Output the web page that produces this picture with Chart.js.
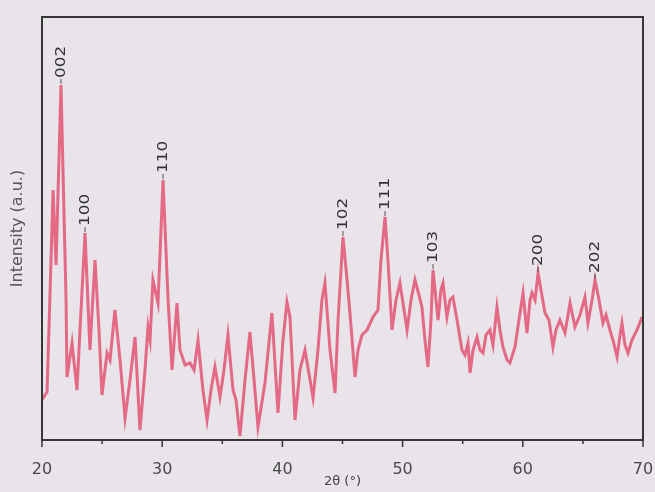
<!DOCTYPE html>
<html lang="en">
<head>
    <meta charset="UTF-8">
    <title>XRD pattern</title>
    <script src="https://cdn.jsdelivr.net/npm/chart.js"></script>
    <style>
        html, body { margin: 0; padding: 0; background: #e8e4ea; }
        #wrap { width: 655px; height: 492px; }
    </style>
</head>
<body>
    <div id="wrap"><canvas id="xrd"></canvas></div>

    <script>
        // 2theta (deg) and intensity (a.u.)
        const twoTheta = [
            20.0, 20.25, 20.42, 20.75, 20.92, 21.17, 21.58, 22.0, 22.08, 22.5, 22.91, 23.16, 23.58, 23.99, 24.41, 24.74,
            24.99, 25.41, 25.66, 26.07, 26.49, 26.91, 27.32, 27.74, 28.15, 28.57, 28.82, 28.99, 29.23, 29.65, 30.07,
            30.49, 30.82, 31.23, 31.48, 31.9, 32.31, 32.65, 32.98, 33.39, 33.73, 34.06, 34.39, 34.81, 35.14, 35.47,
            35.89, 36.14, 36.47, 36.89, 37.3, 37.64, 37.97, 38.55, 39.13, 39.63, 40.05, 40.38, 40.63, 41.05, 41.46,
            41.88, 42.3, 42.55, 42.96, 43.29, 43.54, 43.96, 44.38, 44.63, 45.04, 45.38, 45.62, 46.04, 46.29, 46.62,
            47.04, 47.54, 47.95, 48.2, 48.54, 48.78, 49.12, 49.45, 49.78, 50.12, 50.37, 50.7, 51.03, 51.36, 51.61,
            51.86, 52.11, 52.36, 52.53, 52.78, 52.95, 53.19, 53.36, 53.69, 53.94, 54.19, 54.53, 54.94, 55.19, 55.44,
            55.61, 55.86, 56.19, 56.44, 56.69, 56.94, 57.27, 57.52, 57.85, 58.1, 58.35, 58.69, 58.93, 59.35, 59.68,
            60.02, 60.35, 60.6, 60.77, 61.02, 61.27, 61.51, 61.85, 62.18, 62.51, 62.76, 63.09, 63.51, 63.93, 64.34,
            64.76, 65.17, 65.42, 65.76, 66.01, 66.34, 66.67, 66.92, 67.25, 67.5, 67.84, 68.09, 68.25, 68.5, 68.75,
            69.08, 69.5, 69.92
        ];
        const intensity = [
            40, 45, 48, 180, 250, 175, 355, 140, 63, 97, 50, 110, 207, 90, 180, 110,
            45, 87, 80, 130, 80, 22, 60, 103, 10, 70, 113, 100, 160, 137, 260,
            140, 70, 137, 90, 75, 77, 70, 100, 50, 20, 50, 73, 43, 70, 105,
            50, 40, 4, 60, 108, 60, 13, 57, 127, 27, 100, 138, 123, 20, 70,
            90, 60, 42, 90, 140, 157, 90, 47, 120, 203, 160, 127, 63, 90, 105,
            110, 123, 130, 180, 223, 180, 110, 140, 157, 130, 110, 140, 160, 145, 133,
            100, 73, 120, 170, 140, 120, 150, 157, 123, 140, 143, 120, 90, 85, 97,
            67, 90, 103, 90, 87, 105, 110, 95, 133, 110, 93, 80, 77, 93, 120,
            147, 107, 140, 147, 140, 167, 150, 127, 120, 93, 110, 120, 107, 137, 113,
            125, 143, 117, 140, 160, 140, 117, 125, 110, 100, 83, 105, 117, 95, 87,
            100, 110, 123
        ];

        // reflection labels and where they sit
        const peakNames = ['002', '100', '110', '102', '111', '103', '200', '202'];
        const peakAt = [21.58, 23.58, 30.07, 45.04, 48.54, 52.53, 61.27, 66.01];

        const xTicks = [20, 30, 40, 50, 60, 70];

        const points = twoTheta.map((t, i) => ({ x: t, y: intensity[i] }));

        const framePlugin = {
            id: 'frame',
            beforeDraw(chart) {
                const c = chart.ctx;
                c.save();
                c.fillStyle = '#e8e4ea';
                c.fillRect(0, 0, chart.width, chart.height);
                c.restore();
            },
            afterDraw(chart) {
                const c = chart.ctx;
                const a = chart.chartArea;
                const xs = chart.scales.x;
                const ys = chart.scales.y;
                c.save();
                // box
                c.strokeStyle = '#363636';
                c.lineWidth = 2;
                c.strokeRect(a.left, a.top, a.right - a.left, a.bottom - a.top);
                // ticks every 5 deg, longer at the labelled ones
                c.lineWidth = 1.5;
                for (let v = 20; v <= 70; v += 5) {
                    const px = xs.getPixelForValue(v);
                    const len = (v % 10 === 0) ? 7 : 4;
                    c.beginPath();
                    c.moveTo(px, a.bottom);
                    c.lineTo(px, a.bottom + len);
                    c.stroke();
                }
                // peak labels, rotated, just above each peak
                c.fillStyle = '#333';
                c.strokeStyle = '#555';
                c.lineWidth = 1;
                c.font = '14px "DejaVu Sans"';
                c.textAlign = 'left';
                c.textBaseline = 'middle';
                peakNames.forEach((name, k) => {
                    let best = 0;
                    twoTheta.forEach((t, i) => {
                        if (Math.abs(t - peakAt[k]) < 0.3 && intensity[i] > best) best = intensity[i];
                    });
                    const px = xs.getPixelForValue(peakAt[k]);
                    const py = ys.getPixelForValue(best);
                    c.beginPath();
                    c.moveTo(px, py - 1);
                    c.lineTo(px, py - 6);
                    c.stroke();
                    c.save();
                    c.translate(px, py - 7);
                    c.rotate(-Math.PI / 2);
                    c.scale(1.2, 1);
                    c.fillText(name, 0, 0);
                    c.restore();
                });
                c.restore();
            }
        };

        new Chart(document.getElementById('xrd'), {
            type: 'line',
            data: {
                datasets: [{
                    label: 'XRD',
                    data: points,
                    borderColor: 'rgba(226, 88, 118, 0.88)',
                    borderWidth: 3,
                    pointRadius: 0,
                    tension: 0,
                    fill: false
                }]
            },
            options: {
                responsive: true,
                maintainAspectRatio: false,
                animation: false,
                layout: { padding: { top: 17, right: 12, left: 0, bottom: 0 } },
                plugins: {
                    legend: { display: false },
                    tooltip: { enabled: false }
                },
                scales: {
                    x: {
                        type: 'linear',
                        min: 20,
                        max: 70,
                        afterBuildTicks: s => { s.ticks = xTicks.map(v => ({ value: v })); },
                        grid: { display: false },
                        border: { display: false },
                        ticks: {
                            padding: 12,
                            color: '#4a4a4a',
                            font: { family: 'DejaVu Sans', size: 16 }
                        },
                        title: {
                            display: true,
                            text: '2θ (°)',
                            color: '#444',
                            font: { family: 'DejaVu Sans', size: 13 },
                            padding: { top: 0, bottom: 3 }
                        },
                        afterFit: s => {
                            s.height = 52;
                            s.paddingLeft = 0;
                            s.paddingRight = 0;
                        }
                    },
                    y: {
                        min: 0,
                        max: 423,
                        grid: { display: false },
                        border: { display: false },
                        ticks: { display: false },
                        title: {
                            display: true,
                            text: 'Intensity (a.u.)',
                            color: '#555',
                            font: { family: 'DejaVu Sans', size: 16 },
                            padding: { top: 8, bottom: 0 }
                        },
                        afterFit: s => { s.width = 42; }
                    }
                }
            },
            plugins: [framePlugin]
        });
    </script>
</body>
</html>
